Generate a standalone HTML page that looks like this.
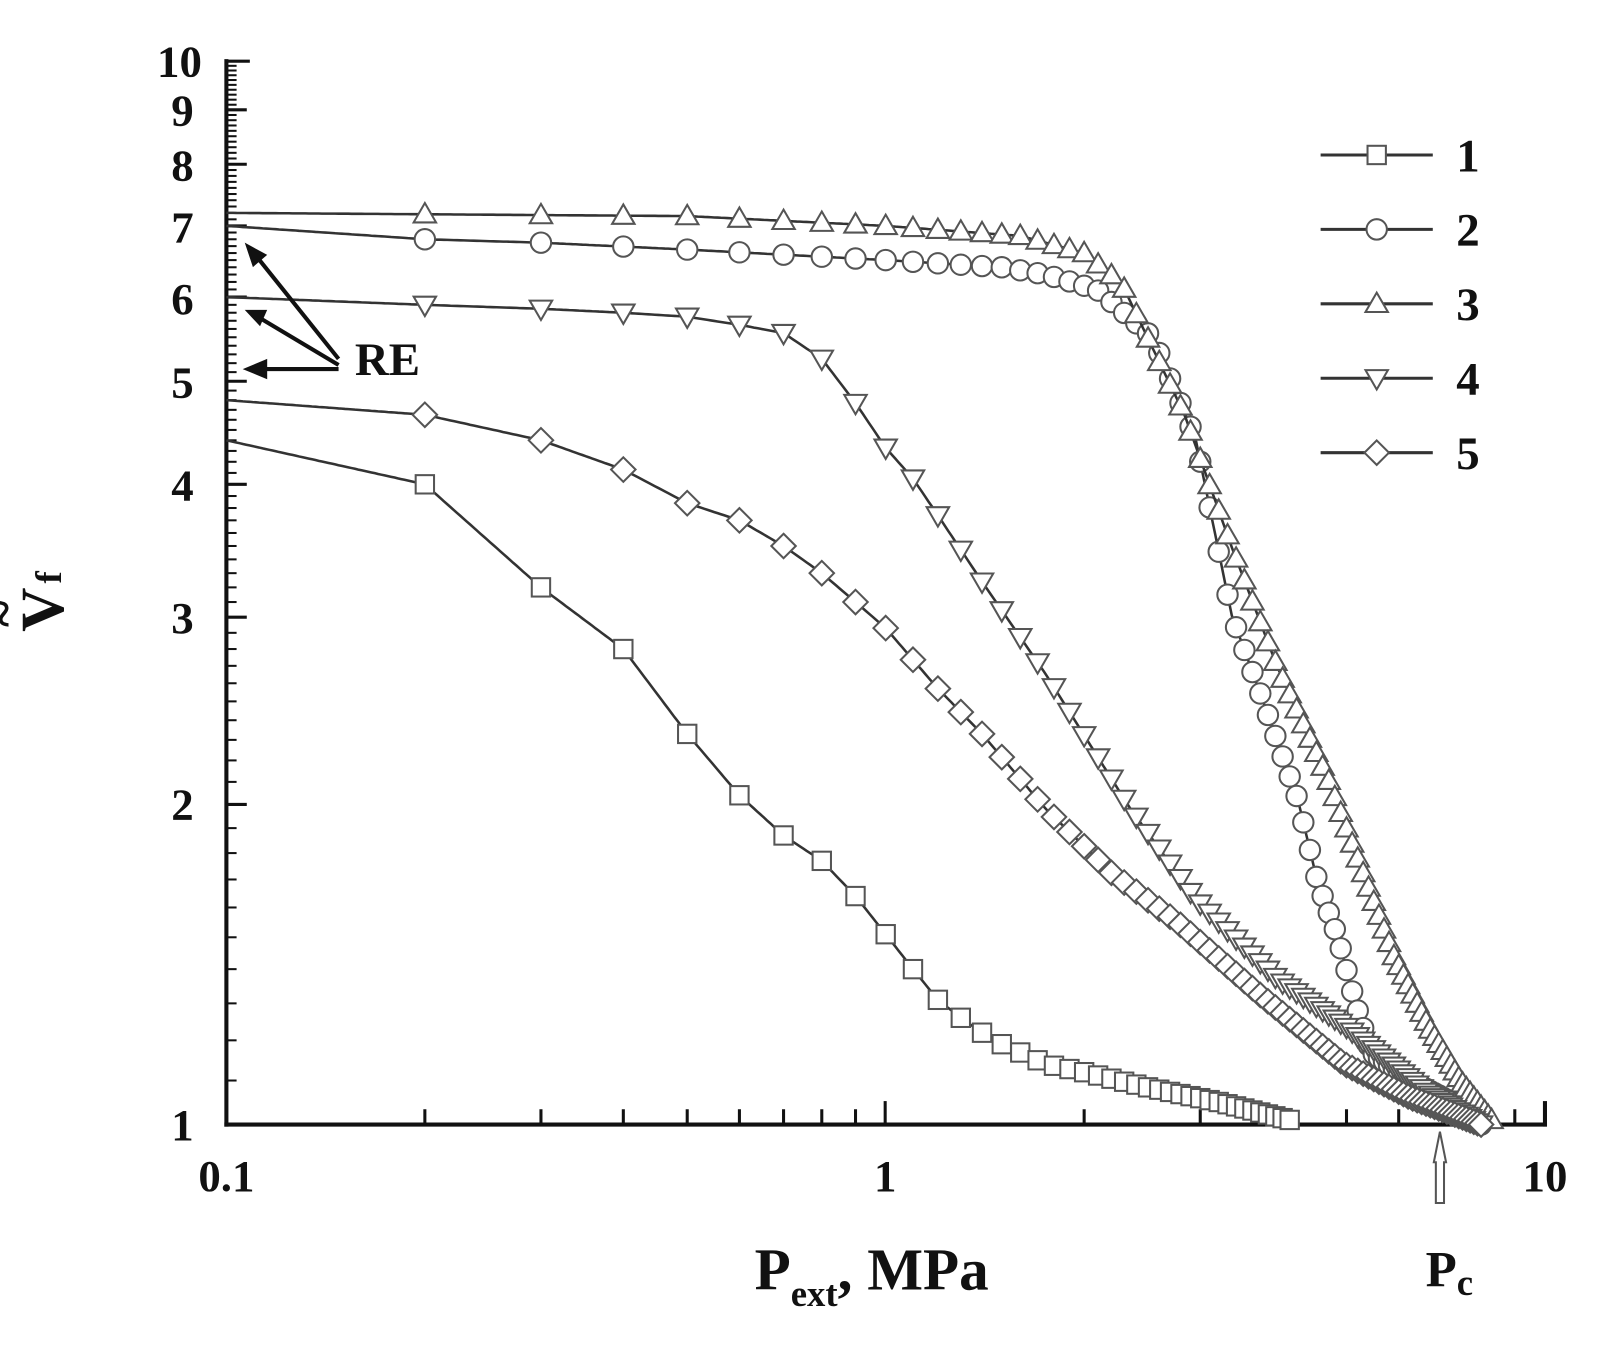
<!DOCTYPE html>
<html><head><meta charset="utf-8"><style>
html,body{margin:0;padding:0;background:#fff}
svg{display:block}
text{font-family:"Liberation Serif",serif;font-weight:bold;fill:#111}
</style></head><body>
<svg id="s" width="1598" height="1358" viewBox="0 0 1567 1332" preserveAspectRatio="none" xmlns="http://www.w3.org/2000/svg">
<g id="ax" stroke="#111" stroke-width="4" fill="none">
<line x1="222" y1="58" x2="222" y2="1105"/>
<line x1="220" y1="1103" x2="1517" y2="1103"/>
<line x1="1515" y1="1080" x2="1515" y2="1105"/>
</g>
<g id="ticks" stroke="#111" stroke-width="3"></g>
<g id="data"></g>
<g font-size="44" text-anchor="end">
<text x="190" y="1118">1</text><text x="190" y="804">2</text><text x="190" y="621">3</text>
<text x="190" y="491">4</text><text x="190" y="390">5</text><text x="190" y="308">6</text>
<text x="190" y="238">7</text><text x="190" y="177">8</text><text x="190" y="123">9</text>
<text x="198" y="75">10</text>
</g>
<g font-size="44" text-anchor="middle">
<text x="222" y="1168">0.1</text><text x="868" y="1168">1</text><text x="1515" y="1168">10</text>
</g>
<text x="740" y="1265" font-size="58">P<tspan font-size="36" dy="16">ext</tspan><tspan dy="-16">, MPa</tspan></text>
<g transform="translate(62,590) rotate(-90)"><text x="0" y="0" font-size="60" text-anchor="middle">V<tspan font-size="36" dy="-2" dx="4">f</tspan></text><text x="-12" y="-42" font-size="50" text-anchor="middle">~</text></g>
<text x="348" y="368" font-size="46">RE</text>
<g stroke="#111" stroke-width="4">
<line x1="332" y1="352" x2="252" y2="252"/><line x1="332" y1="358" x2="255" y2="312"/><line x1="332" y1="362" x2="255" y2="362"/>
</g>
<g fill="#111">
<polygon points="240,238 262,250 248,262"/><polygon points="240,304 262,304 255,320"/><polygon points="238,362 262,352 262,372"/>
</g>
<polygon points="1412,1110 1418,1140 1416,1140 1416,1180 1408,1180 1408,1140 1406,1140" fill="#fff" stroke="#555" stroke-width="2"/>
<text x="1398" y="1262" font-size="50">P<tspan font-size="36" dy="8">c</tspan></text>
<g id="leg"></g>
</svg>
<script>
const NS="http://www.w3.org/2000/svg";
const X=p=>222+646.5*Math.log10(p/0.1), Y=v=>1103-1043*Math.log10(v);
function el(t,a,par){const e=document.createElementNS(NS,t);for(const k in a)e.setAttribute(k,a[k]);par.appendChild(e);return e;}
const tk=document.getElementById('ticks');
for(let v=2;v<=10;v++){el('line',{x1:222,y1:Y(v),x2:v==10?245:242,y2:Y(v)},tk);}
for(let v=1;v<10;v+=0.1){if(Math.abs(v-Math.round(v))<0.01)continue;el('line',{x1:222,y1:Y(v),x2:232,y2:Y(v),'stroke-width':2},tk);}
for(let d of [0.1,1]){for(let k=2;k<=9;k++){el('line',{x1:X(d*k),y1:1103,x2:X(d*k),y2:1088},tk);}}
el('line',{x1:868,y1:1103,x2:868,y2:1080},tk);
const S=[
 {m:'sq',end:4.1,pts:[[0.1,4.4],[0.2,4.0],[0.3,3.2],[0.4,2.8],[0.5,2.33],[0.6,2.04],[0.7,1.87],[0.8,1.77],[0.9,1.64],[1.0,1.51],[1.1,1.40],[1.2,1.31],[1.3,1.26],[1.4,1.22],[1.5,1.19],[1.75,1.14],[2.0,1.12],[2.48,1.085],[3.2,1.05],[4.1,1.01]]},
 {m:'ci',end:8.0,pts:[[0.1,7.0],[0.2,6.8],[0.3,6.75],[0.5,6.65],[1,6.5],[1.5,6.4],[1.75,6.3],[2.09,6.1],[2.54,5.5],[2.95,4.42],[3.35,3.01],[3.72,2.52],[4.22,2.02],[4.52,1.69],[4.85,1.50],[5.14,1.31],[5.44,1.17],[6.25,1.10],[7.88,1.02],[8.0,1.0]]},
 {m:'tu',end:8.3,pts:[[0.1,7.2],[0.5,7.15],[1,7.0],[1.6,6.85],[2.0,6.6],[2.28,6.18],[2.84,4.65],[3.35,3.49],[3.93,2.69],[4.68,2.12],[5.27,1.74],[5.90,1.44],[6.64,1.24],[7.44,1.10],[8.3,1.01]]},
 {m:'td',end:8.0,pts:[[0.1,6.0],[0.2,5.9],[0.3,5.85],[0.4,5.8],[0.5,5.75],[0.6,5.65],[0.7,5.55],[0.8,5.25],[0.9,4.77],[1.0,4.33],[1.1,4.05],[1.2,3.74],[1.4,3.24],[1.75,2.65],[2.34,1.99],[2.95,1.63],[3.93,1.37],[4.96,1.24],[6.64,1.07],[8,1.0]]},
 {m:'di',end:8.0,pts:[[0.1,4.8],[0.2,4.65],[0.3,4.4],[0.4,4.13],[0.5,3.84],[0.6,3.7],[0.7,3.5],[0.8,3.3],[0.9,3.1],[1.0,2.93],[1.2,2.57],[1.4,2.33],[1.75,1.98],[2.21,1.72],[2.77,1.55],[3.72,1.32],[4.96,1.14],[6.25,1.06],[8,1.0]]}
];
function interp(pts,p){const lp=Math.log10(p);for(let i=0;i<pts.length-1;i++){const a=Math.log10(pts[i][0]),b=Math.log10(pts[i+1][0]);if(lp>=a&&lp<=b){const t=(lp-a)/(b-a);return Math.pow(10,Math.log10(pts[i][1])*(1-t)+Math.log10(pts[i+1][1])*t);}}return pts[pts.length-1][1];}
function marker(m,x,y,g){const st={fill:'#fff',stroke:'#555','stroke-width':2};
 if(m=='sq')el('rect',Object.assign({x:x-9,y:y-9,width:18,height:18},st),g);
 else if(m=='ci')el('circle',Object.assign({cx:x,cy:y,r:10},st),g);
 else if(m=='tu')el('polygon',Object.assign({points:`${x},${y-11} ${x+11},${y+8} ${x-11},${y+8}`},st),g);
 else if(m=='td')el('polygon',Object.assign({points:`${x},${y+11} ${x+11},${y-8} ${x-11},${y-8}`},st),g);
 else el('polygon',Object.assign({points:`${x},${y-12} ${x+12},${y} ${x},${y+12} ${x-12},${y}`},st),g);}
const dg=document.getElementById('data');
S.forEach(s=>{
 let d='';for(let lp=-1;lp<=Math.log10(s.end)+1e-9;lp+=0.005){const p=Math.pow(10,lp);d+=(d?'L':'M')+X(p).toFixed(1)+','+Y(interp(s.pts,p)).toFixed(1);}
 el('path',{d:d,fill:'none',stroke:'#333','stroke-width':2.5},dg);
 const g=el('g',{},dg);
 let ps=[];for(let k=2;k<=9;k++)ps.push(k/10);for(let k=10;k<=Math.round(s.end*10);k++)ps.push(k/10);
 ps.forEach(p=>marker(s.m,X(p),Y(interp(s.pts,p)),g));
});
const lg=document.getElementById('leg');const ms=['sq','ci','tu','td','di'];
ms.forEach((m,i)=>{const y=152+i*73;el('line',{x1:1295,y1:y,x2:1405,y2:y,stroke:'#333','stroke-width':3},lg);marker(m,1350,y,lg);
 const t=el('text',{x:1428,y:y+16,'font-size':46},lg);t.textContent=String(i+1);});
</script>
</body></html>
